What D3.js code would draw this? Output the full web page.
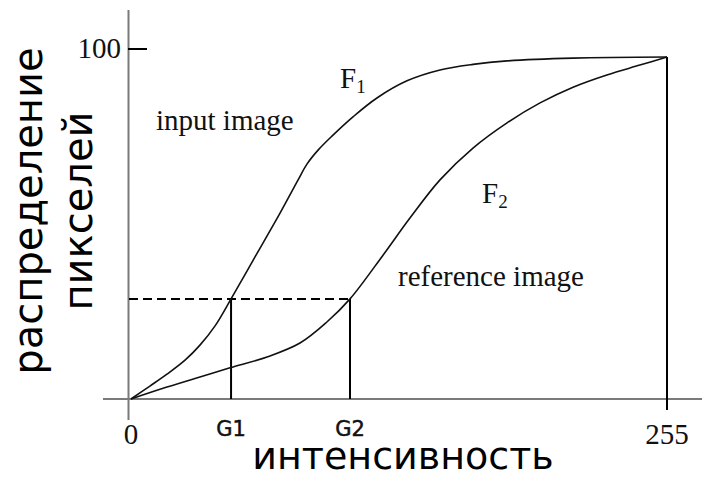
<!DOCTYPE html>
<html>
<head>
<meta charset="utf-8">
<script src="https://cdn.jsdelivr.net/npm/d3@7"></script>
<style>
  body { margin: 0; background: #fff; }
  svg { display: block; }
</style>
</head>
<body>
<div id="chart"></div>
<script>
// intensity (0..255) and cumulative pixel share (0..100)
const f1Intensity = [0, 9, 17.1, 25.7, 32.8, 40, 47.6, 59, 70.9, 79.5, 83.7, 89, 95.6, 105.6, 117, 131.3, 147, 162.7, 178.9, 210.3, 255];
const f1Values    = [0, 3.7, 7.1, 11.1, 15.4, 20.9, 28.6, 40.6, 53.1, 62.6, 67.1, 71.1, 75.1, 80.6, 86, 90.9, 94, 95.6, 96.6, 97.4, 97.7];

const f2Intensity = [0, 17.1, 32.8, 47.1, 64.7, 80.4, 93.2, 104.2, 119.9, 132.7, 147, 162.7, 178.9, 194.6, 210.3, 226.4, 242.1, 255];
const f2Values    = [0, 3.4, 6.3, 8.9, 12, 16, 22, 28.6, 41.1, 51.7, 62.6, 71.7, 78.9, 84.6, 89.1, 92.6, 95.4, 97.7];

const level = 28.6;          // shared value for the mapping
const g1 = 47.6, g2 = 104.2; // intensities where each curve reaches it
const xTickValues = [0, g1, g2, 255];
const xTickLabels = ["0", "G1", "G2", "255"];
const yTickValues = [100];
const endValue = 97.7;

const width = 704, height = 479;

const svg = d3.select("#chart").append("svg")
  .attr("width", width)
  .attr("height", height);

const x = d3.scaleLinear().domain([0, 255]).range([131, 667]);
const y = d3.scaleLinear().domain([0, 100]).range([399, 49]);

const serif = "'Liberation Serif', 'Times New Roman', serif";
const sans = "'DejaVu Sans', Verdana, sans-serif";

// axes (plain gray lines like the original drawing)
svg.append("line")
  .attr("x1", 128.5).attr("x2", 128.5)
  .attr("y1", 10).attr("y2", 420)
  .attr("stroke", "#7a7a7a").attr("stroke-width", 2);

svg.append("line")
  .attr("x1", 103).attr("x2", 702)
  .attr("y1", y(0)).attr("y2", y(0))
  .attr("stroke", "#7a7a7a").attr("stroke-width", 2);

// y tick
svg.selectAll(".ytick").data(yTickValues).enter().append("line")
  .attr("x1", 128).attr("x2", 147)
  .attr("y1", d => y(d)).attr("y2", d => y(d))
  .attr("stroke", "black").attr("stroke-width", 2);

svg.selectAll(".ylabel").data(yTickValues).enter().append("text")
  .attr("x", 121)
  .attr("y", d => y(d) + 9)
  .attr("text-anchor", "end")
  .style("font-family", serif)
  .style("font-size", "29px")
  .attr("fill", "#111")
  .text(d => d);

// x tick labels
const isG = i => i === 1 || i === 2;
svg.selectAll(".xlabel").data(xTickValues).enter().append("text")
  .attr("x", d => x(d))
  .attr("y", (d, i) => isG(i) ? 436 : 444)
  .attr("text-anchor", "middle")
  .style("font-family", (d, i) => isG(i) ? sans : serif)
  .style("font-size", (d, i) => isG(i) ? "21px" : "29px")
  .attr("fill", "#111")
  .attr("stroke", (d, i) => isG(i) ? "#111" : "none")
  .attr("stroke-width", 0.5)
  .text((d, i) => xTickLabels[i]);

// dashed level and drop lines
svg.append("line")
  .attr("x1", 129).attr("x2", x(g2))
  .attr("y1", y(level)).attr("y2", y(level))
  .attr("stroke", "black").attr("stroke-width", 2)
  .attr("stroke-dasharray", "9,5");

[g1, g2].forEach(g => {
  svg.append("line")
    .attr("x1", x(g)).attr("x2", x(g))
    .attr("y1", y(level)).attr("y2", y(0))
    .attr("stroke", "black").attr("stroke-width", 2);
});

svg.append("line")
  .attr("x1", x(255)).attr("x2", x(255))
  .attr("y1", y(endValue)).attr("y2", 410)
  .attr("stroke", "black").attr("stroke-width", 2);

// curves
const line = d3.line()
  .x(d => x(d[0]))
  .y(d => y(d[1]))
  .curve(d3.curveCatmullRom.alpha(0.5));

svg.append("path")
  .datum(f1Intensity.map((v, i) => [v, f1Values[i]]))
  .attr("d", line)
  .attr("fill", "none")
  .attr("stroke", "#111")
  .attr("stroke-width", 1.6);

svg.append("path")
  .datum(f2Intensity.map((v, i) => [v, f2Values[i]]))
  .attr("d", line)
  .attr("fill", "none")
  .attr("stroke", "#111")
  .attr("stroke-width", 1.6);

// curve labels
function curveLabel(px, py, sub) {
  const t = svg.append("text")
    .attr("x", px).attr("y", py)
    .style("font-family", serif)
    .style("font-size", "29px")
    .attr("fill", "#111");
  t.append("tspan").text("F");
  t.append("tspan").attr("dy", 5).style("font-size", "19px").text(sub);
}
curveLabel(340, 88, "1");
curveLabel(482, 203, "2");

svg.append("text")
  .attr("x", 156).attr("y", 130)
  .style("font-family", serif).style("font-size", "29px")
  .attr("fill", "#111")
  .text("input image");

svg.append("text")
  .attr("x", 398).attr("y", 286)
  .style("font-family", serif).style("font-size", "29px")
  .attr("fill", "#111")
  .text("reference image");

// axis titles
svg.append("text")
  .attr("x", 403).attr("y", 469)
  .attr("text-anchor", "middle")
  .style("font-family", sans).style("font-size", "38px")
  .attr("fill", "#000")
  .text("интенсивность");

const yTitle = svg.append("text")
  .attr("transform", "translate(42,211) rotate(-90)")
  .attr("text-anchor", "middle")
  .style("font-family", sans).style("font-size", "40px")
  .attr("fill", "#000");
yTitle.append("tspan").attr("x", 0).attr("y", 0).text("распределение");
yTitle.append("tspan").attr("x", 0).attr("y", 50).text("пикселей");
</script>
</body>
</html>
